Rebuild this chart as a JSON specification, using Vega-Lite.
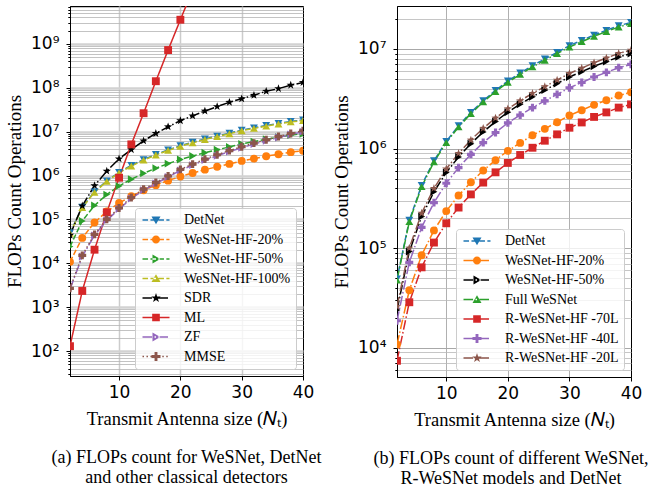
{
  "$schema": "https://vega.github.io/schema/vega-lite/v6.json",
  "background": "white",
  "padding": 5,
  "spacing": 94,
  "bounds": "flush",
  "datasets": {
    "left": [
      {"series":"DetNet","x":2,"y":49300},{"series":"DetNet","x":4,"y":191000},{"series":"DetNet","x":6,"y":428000},{"series":"DetNet","x":8,"y":757000},{"series":"DetNet","x":10,"y":1180000},{"series":"DetNet","x":12,"y":1700000},{"series":"DetNet","x":14,"y":2310000},{"series":"DetNet","x":16,"y":3030000},{"series":"DetNet","x":18,"y":3840000},{"series":"DetNet","x":20,"y":4770000},{"series":"DetNet","x":22,"y":5740000},{"series":"DetNet","x":24,"y":6810000},{"series":"DetNet","x":26,"y":7940000},{"series":"DetNet","x":28,"y":9240000},{"series":"DetNet","x":30,"y":10800000},{"series":"DetNet","x":32,"y":12200000},{"series":"DetNet","x":34,"y":13800000},{"series":"DetNet","x":36,"y":15400000},{"series":"DetNet","x":38,"y":17100000},{"series":"DetNet","x":40,"y":18500000},
      {"series":"WeSNet-HF-20%","x":2,"y":10800},{"series":"WeSNet-HF-20%","x":4,"y":37900},{"series":"WeSNet-HF-20%","x":6,"y":85100},{"series":"WeSNet-HF-20%","x":8,"y":151000},{"series":"WeSNet-HF-20%","x":10,"y":236000},{"series":"WeSNet-HF-20%","x":12,"y":338000},{"series":"WeSNet-HF-20%","x":14,"y":459000},{"series":"WeSNet-HF-20%","x":16,"y":603000},{"series":"WeSNet-HF-20%","x":18,"y":765000},{"series":"WeSNet-HF-20%","x":20,"y":949000},{"series":"WeSNet-HF-20%","x":22,"y":1140000},{"series":"WeSNet-HF-20%","x":24,"y":1360000},{"series":"WeSNet-HF-20%","x":26,"y":1580000},{"series":"WeSNet-HF-20%","x":28,"y":1840000},{"series":"WeSNet-HF-20%","x":30,"y":2150000},{"series":"WeSNet-HF-20%","x":32,"y":2430000},{"series":"WeSNet-HF-20%","x":34,"y":2750000},{"series":"WeSNet-HF-20%","x":36,"y":3060000},{"series":"WeSNet-HF-20%","x":38,"y":3410000},{"series":"WeSNet-HF-20%","x":40,"y":3680000},
      {"series":"WeSNet-HF-50%","x":2,"y":24000},{"series":"WeSNet-HF-50%","x":4,"y":92500},{"series":"WeSNet-HF-50%","x":6,"y":208000},{"series":"WeSNet-HF-50%","x":8,"y":368000},{"series":"WeSNet-HF-50%","x":10,"y":575000},{"series":"WeSNet-HF-50%","x":12,"y":825000},{"series":"WeSNet-HF-50%","x":14,"y":1120000},{"series":"WeSNet-HF-50%","x":16,"y":1470000},{"series":"WeSNet-HF-50%","x":18,"y":1870000},{"series":"WeSNet-HF-50%","x":20,"y":2320000},{"series":"WeSNet-HF-50%","x":22,"y":2790000},{"series":"WeSNet-HF-50%","x":24,"y":3310000},{"series":"WeSNet-HF-50%","x":26,"y":3860000},{"series":"WeSNet-HF-50%","x":28,"y":4490000},{"series":"WeSNet-HF-50%","x":30,"y":5240000},{"series":"WeSNet-HF-50%","x":32,"y":5920000},{"series":"WeSNet-HF-50%","x":34,"y":6700000},{"series":"WeSNet-HF-50%","x":36,"y":7470000},{"series":"WeSNet-HF-50%","x":38,"y":8320000},{"series":"WeSNet-HF-50%","x":40,"y":8980000},
      {"series":"WeSNet-HF-100%","x":2,"y":47900},{"series":"WeSNet-HF-100%","x":4,"y":185000},{"series":"WeSNet-HF-100%","x":6,"y":415000},{"series":"WeSNet-HF-100%","x":8,"y":735000},{"series":"WeSNet-HF-100%","x":10,"y":1150000},{"series":"WeSNet-HF-100%","x":12,"y":1650000},{"series":"WeSNet-HF-100%","x":14,"y":2240000},{"series":"WeSNet-HF-100%","x":16,"y":2940000},{"series":"WeSNet-HF-100%","x":18,"y":3730000},{"series":"WeSNet-HF-100%","x":20,"y":4630000},{"series":"WeSNet-HF-100%","x":22,"y":5570000},{"series":"WeSNet-HF-100%","x":24,"y":6610000},{"series":"WeSNet-HF-100%","x":26,"y":7710000},{"series":"WeSNet-HF-100%","x":28,"y":8970000},{"series":"WeSNet-HF-100%","x":30,"y":10470000},{"series":"WeSNet-HF-100%","x":32,"y":11830000},{"series":"WeSNet-HF-100%","x":34,"y":13400000},{"series":"WeSNet-HF-100%","x":36,"y":14930000},{"series":"WeSNet-HF-100%","x":38,"y":16630000},{"series":"WeSNet-HF-100%","x":40,"y":17950000},
      {"series":"SDR","x":2,"y":43700},{"series":"SDR","x":4,"y":204000},{"series":"SDR","x":6,"y":589000},{"series":"SDR","x":8,"y":1260000},{"series":"SDR","x":10,"y":2400000},{"series":"SDR","x":12,"y":3890000},{"series":"SDR","x":14,"y":6170000},{"series":"SDR","x":16,"y":9120000},{"series":"SDR","x":18,"y":12900000},{"series":"SDR","x":20,"y":17800000},{"series":"SDR","x":22,"y":22900000},{"series":"SDR","x":24,"y":29500000},{"series":"SDR","x":26,"y":37200000},{"series":"SDR","x":28,"y":46800000},{"series":"SDR","x":30,"y":56200000},{"series":"SDR","x":32,"y":67600000},{"series":"SDR","x":34,"y":83200000},{"series":"SDR","x":36,"y":95500000},{"series":"SDR","x":38,"y":114800000},{"series":"SDR","x":40,"y":131800000},
      {"series":"ML","x":2,"y":129},{"series":"ML","x":4,"y":2340},{"series":"ML","x":6,"y":20400},{"series":"ML","x":8,"y":145000},{"series":"ML","x":10,"y":891000},{"series":"ML","x":12,"y":5130000},{"series":"ML","x":14,"y":26300000},{"series":"ML","x":16,"y":141000000},{"series":"ML","x":18,"y":724000000},{"series":"ML","x":20,"y":3550000000},{"series":"ML","x":22,"y":17000000000},{"series":"ML","x":24,"y":80000000000},{"series":"ML","x":26,"y":380000000000},{"series":"ML","x":28,"y":1.8e12},{"series":"ML","x":30,"y":8.5e12},{"series":"ML","x":32,"y":4e13},{"series":"ML","x":34,"y":1.9e14},{"series":"ML","x":36,"y":8.9e14},{"series":"ML","x":38,"y":4.2e15},{"series":"ML","x":40,"y":2e16},
      {"series":"ZF","x":2,"y":2560},{"series":"ZF","x":4,"y":14300},{"series":"ZF","x":6,"y":43400},{"series":"ZF","x":8,"y":95000},{"series":"ZF","x":10,"y":173000},{"series":"ZF","x":12,"y":300000},{"series":"ZF","x":14,"y":465000},{"series":"ZF","x":16,"y":657000},{"series":"ZF","x":18,"y":928000},{"series":"ZF","x":20,"y":1310000},{"series":"ZF","x":22,"y":1730000},{"series":"ZF","x":24,"y":2240000},{"series":"ZF","x":26,"y":2830000},{"series":"ZF","x":28,"y":3520000},{"series":"ZF","x":30,"y":4300000},{"series":"ZF","x":32,"y":5200000},{"series":"ZF","x":34,"y":6200000},{"series":"ZF","x":36,"y":7340000},{"series":"ZF","x":38,"y":8600000},{"series":"ZF","x":40,"y":9990000},
      {"series":"MMSE","x":2,"y":2690},{"series":"MMSE","x":4,"y":15100},{"series":"MMSE","x":6,"y":45700},{"series":"MMSE","x":8,"y":100000},{"series":"MMSE","x":10,"y":182000},{"series":"MMSE","x":12,"y":316000},{"series":"MMSE","x":14,"y":490000},{"series":"MMSE","x":16,"y":692000},{"series":"MMSE","x":18,"y":977000},{"series":"MMSE","x":20,"y":1380000},{"series":"MMSE","x":22,"y":1820000},{"series":"MMSE","x":24,"y":2360000},{"series":"MMSE","x":26,"y":2980000},{"series":"MMSE","x":28,"y":3700000},{"series":"MMSE","x":30,"y":4530000},{"series":"MMSE","x":32,"y":5470000},{"series":"MMSE","x":34,"y":6530000},{"series":"MMSE","x":36,"y":7730000},{"series":"MMSE","x":38,"y":9060000},{"series":"MMSE","x":40,"y":10500000}
    ],
    "right": [
      {"series":"DetNet","x":2,"y":49300},{"series":"DetNet","x":4,"y":191000},{"series":"DetNet","x":6,"y":428000},{"series":"DetNet","x":8,"y":757000},{"series":"DetNet","x":10,"y":1180000},{"series":"DetNet","x":12,"y":1700000},{"series":"DetNet","x":14,"y":2310000},{"series":"DetNet","x":16,"y":3030000},{"series":"DetNet","x":18,"y":3840000},{"series":"DetNet","x":20,"y":4770000},{"series":"DetNet","x":22,"y":5740000},{"series":"DetNet","x":24,"y":6810000},{"series":"DetNet","x":26,"y":7940000},{"series":"DetNet","x":28,"y":9240000},{"series":"DetNet","x":30,"y":10800000},{"series":"DetNet","x":32,"y":12200000},{"series":"DetNet","x":34,"y":13800000},{"series":"DetNet","x":36,"y":15400000},{"series":"DetNet","x":38,"y":17100000},{"series":"DetNet","x":40,"y":18500000},
      {"series":"WeSNet-HF-20%","x":2,"y":10800},{"series":"WeSNet-HF-20%","x":4,"y":37900},{"series":"WeSNet-HF-20%","x":6,"y":85100},{"series":"WeSNet-HF-20%","x":8,"y":151000},{"series":"WeSNet-HF-20%","x":10,"y":236000},{"series":"WeSNet-HF-20%","x":12,"y":338000},{"series":"WeSNet-HF-20%","x":14,"y":459000},{"series":"WeSNet-HF-20%","x":16,"y":603000},{"series":"WeSNet-HF-20%","x":18,"y":765000},{"series":"WeSNet-HF-20%","x":20,"y":949000},{"series":"WeSNet-HF-20%","x":22,"y":1140000},{"series":"WeSNet-HF-20%","x":24,"y":1360000},{"series":"WeSNet-HF-20%","x":26,"y":1580000},{"series":"WeSNet-HF-20%","x":28,"y":1840000},{"series":"WeSNet-HF-20%","x":30,"y":2150000},{"series":"WeSNet-HF-20%","x":32,"y":2430000},{"series":"WeSNet-HF-20%","x":34,"y":2750000},{"series":"WeSNet-HF-20%","x":36,"y":3060000},{"series":"WeSNet-HF-20%","x":38,"y":3410000},{"series":"WeSNet-HF-20%","x":40,"y":3680000},
      {"series":"WeSNet-HF-50%","x":2,"y":24000},{"series":"WeSNet-HF-50%","x":4,"y":92500},{"series":"WeSNet-HF-50%","x":6,"y":208000},{"series":"WeSNet-HF-50%","x":8,"y":368000},{"series":"WeSNet-HF-50%","x":10,"y":575000},{"series":"WeSNet-HF-50%","x":12,"y":825000},{"series":"WeSNet-HF-50%","x":14,"y":1120000},{"series":"WeSNet-HF-50%","x":16,"y":1470000},{"series":"WeSNet-HF-50%","x":18,"y":1870000},{"series":"WeSNet-HF-50%","x":20,"y":2320000},{"series":"WeSNet-HF-50%","x":22,"y":2790000},{"series":"WeSNet-HF-50%","x":24,"y":3310000},{"series":"WeSNet-HF-50%","x":26,"y":3860000},{"series":"WeSNet-HF-50%","x":28,"y":4490000},{"series":"WeSNet-HF-50%","x":30,"y":5240000},{"series":"WeSNet-HF-50%","x":32,"y":5920000},{"series":"WeSNet-HF-50%","x":34,"y":6700000},{"series":"WeSNet-HF-50%","x":36,"y":7470000},{"series":"WeSNet-HF-50%","x":38,"y":8320000},{"series":"WeSNet-HF-50%","x":40,"y":8980000},
      {"series":"Full WeSNet","x":2,"y":47900},{"series":"Full WeSNet","x":4,"y":185000},{"series":"Full WeSNet","x":6,"y":415000},{"series":"Full WeSNet","x":8,"y":735000},{"series":"Full WeSNet","x":10,"y":1150000},{"series":"Full WeSNet","x":12,"y":1650000},{"series":"Full WeSNet","x":14,"y":2240000},{"series":"Full WeSNet","x":16,"y":2940000},{"series":"Full WeSNet","x":18,"y":3730000},{"series":"Full WeSNet","x":20,"y":4630000},{"series":"Full WeSNet","x":22,"y":5570000},{"series":"Full WeSNet","x":24,"y":6610000},{"series":"Full WeSNet","x":26,"y":7710000},{"series":"Full WeSNet","x":28,"y":8970000},{"series":"Full WeSNet","x":30,"y":10470000},{"series":"Full WeSNet","x":32,"y":11830000},{"series":"Full WeSNet","x":34,"y":13400000},{"series":"Full WeSNet","x":36,"y":14930000},{"series":"Full WeSNet","x":38,"y":16630000},{"series":"Full WeSNet","x":40,"y":17950000},
      {"series":"R-WeSNet-HF -70L","x":2,"y":7420},{"series":"R-WeSNet-HF -70L","x":4,"y":28700},{"series":"R-WeSNet-HF -70L","x":6,"y":64300},{"series":"R-WeSNet-HF -70L","x":8,"y":114000},{"series":"R-WeSNet-HF -70L","x":10,"y":178000},{"series":"R-WeSNet-HF -70L","x":12,"y":256000},{"series":"R-WeSNet-HF -70L","x":14,"y":347000},{"series":"R-WeSNet-HF -70L","x":16,"y":456000},{"series":"R-WeSNet-HF -70L","x":18,"y":578000},{"series":"R-WeSNet-HF -70L","x":20,"y":718000},{"series":"R-WeSNet-HF -70L","x":22,"y":863000},{"series":"R-WeSNet-HF -70L","x":24,"y":1020000},{"series":"R-WeSNet-HF -70L","x":26,"y":1200000},{"series":"R-WeSNet-HF -70L","x":28,"y":1390000},{"series":"R-WeSNet-HF -70L","x":30,"y":1620000},{"series":"R-WeSNet-HF -70L","x":32,"y":1830000},{"series":"R-WeSNet-HF -70L","x":34,"y":2080000},{"series":"R-WeSNet-HF -70L","x":36,"y":2310000},{"series":"R-WeSNet-HF -70L","x":38,"y":2580000},{"series":"R-WeSNet-HF -70L","x":40,"y":2780000},
      {"series":"R-WeSNet-HF -40L","x":2,"y":18700},{"series":"R-WeSNet-HF -40L","x":4,"y":72200},{"series":"R-WeSNet-HF -40L","x":6,"y":162000},{"series":"R-WeSNet-HF -40L","x":8,"y":287000},{"series":"R-WeSNet-HF -40L","x":10,"y":449000},{"series":"R-WeSNet-HF -40L","x":12,"y":644000},{"series":"R-WeSNet-HF -40L","x":14,"y":874000},{"series":"R-WeSNet-HF -40L","x":16,"y":1150000},{"series":"R-WeSNet-HF -40L","x":18,"y":1450000},{"series":"R-WeSNet-HF -40L","x":20,"y":1810000},{"series":"R-WeSNet-HF -40L","x":22,"y":2170000},{"series":"R-WeSNet-HF -40L","x":24,"y":2580000},{"series":"R-WeSNet-HF -40L","x":26,"y":3010000},{"series":"R-WeSNet-HF -40L","x":28,"y":3500000},{"series":"R-WeSNet-HF -40L","x":30,"y":4080000},{"series":"R-WeSNet-HF -40L","x":32,"y":4610000},{"series":"R-WeSNet-HF -40L","x":34,"y":5230000},{"series":"R-WeSNet-HF -40L","x":36,"y":5820000},{"series":"R-WeSNet-HF -40L","x":38,"y":6490000},{"series":"R-WeSNet-HF -40L","x":40,"y":7000000},
      {"series":"R-WeSNet-HF -20L","x":2,"y":26000},{"series":"R-WeSNet-HF -20L","x":4,"y":100500},{"series":"R-WeSNet-HF -20L","x":6,"y":225000},{"series":"R-WeSNet-HF -20L","x":8,"y":399000},{"series":"R-WeSNet-HF -20L","x":10,"y":625000},{"series":"R-WeSNet-HF -20L","x":12,"y":896000},{"series":"R-WeSNet-HF -20L","x":14,"y":1220000},{"series":"R-WeSNet-HF -20L","x":16,"y":1600000},{"series":"R-WeSNet-HF -20L","x":18,"y":2030000},{"series":"R-WeSNet-HF -20L","x":20,"y":2510000},{"series":"R-WeSNet-HF -20L","x":22,"y":3020000},{"series":"R-WeSNet-HF -20L","x":24,"y":3590000},{"series":"R-WeSNet-HF -20L","x":26,"y":4190000},{"series":"R-WeSNet-HF -20L","x":28,"y":4870000},{"series":"R-WeSNet-HF -20L","x":30,"y":5690000},{"series":"R-WeSNet-HF -20L","x":32,"y":6420000},{"series":"R-WeSNet-HF -20L","x":34,"y":7280000},{"series":"R-WeSNet-HF -20L","x":36,"y":8110000},{"series":"R-WeSNet-HF -20L","x":38,"y":9030000},{"series":"R-WeSNet-HF -20L","x":40,"y":9750000}
    ]
  },
  "hconcat": [
    {
      "width": 233,
      "height": 370,
      "data": {"name": "left"},
      "title": {"text": ["(a) FLOPs count for WeSNet, DetNet", "and other classical detectors"], "orient": "bottom", "anchor": "middle", "frame": "group", "offset": 21, "dx": 0, "lineHeight": 20},
      "encoding": {
        "x": {"field": "x", "type": "quantitative", "scale": {"domain": [2, 40], "nice": false, "zero": false},
          "axis": {"title": "Transmit Antenna size (𝑁ₜ)", "values": [10, 20, 30, 40], "grid": true, "gridColor": "#cccccc", "gridWidth": 1.5, "gridOpacity": {"condition": {"test": "datum.value >= 40", "value": 0}, "value": 1}, "labelFlush": false, "tickSize": 4, "labelPadding": 4, "titlePadding": 9}},
        "y": {"field": "y", "type": "quantitative", "scale": {"type": "log", "domain": [27, 7300000000], "nice": false},
          "axis": {"title": "FLOPs Count Operations", "titleFontSize": 19,
            "values": [30,40,50,60,70,80,90,100,200,300,400,500,600,700,800,900,1000,2000,3000,4000,5000,6000,7000,8000,9000,10000,20000,30000,40000,50000,60000,70000,80000,90000,100000,200000,300000,400000,500000,600000,700000,800000,900000,1000000,2000000,3000000,4000000,5000000,6000000,7000000,8000000,9000000,10000000,20000000,30000000,40000000,50000000,60000000,70000000,80000000,90000000,100000000,200000000,300000000,400000000,500000000,600000000,700000000,800000000,900000000,1000000000,2000000000,3000000000,4000000000,5000000000,6000000000,7000000000],
            "labelExpr": "abs(log(datum.value)/LN10 - round(log(datum.value)/LN10)) < 0.000001 ? '10' + ['⁰','¹','²','³','⁴','⁵','⁶','⁷','⁸','⁹'][round(log(datum.value)/LN10)] : ''",
            "labelFontSize": {"condition": {"test": "abs(log(datum.value)/LN10 - round(log(datum.value)/LN10)) < 0.000001", "value": 17}, "value": 0},
            "labelOverlap": false,
            "grid": true,
            "gridColor": {"condition": {"test": "abs(log(datum.value)/LN10 - round(log(datum.value)/LN10)) < 0.000001", "value": "#d2d2d2"}, "value": "#b4b4b4"},
            "gridWidth": {"condition": {"test": "abs(log(datum.value)/LN10 - round(log(datum.value)/LN10)) < 0.000001", "value": 2.5}, "value": 0.8},
            "tickSize": {"condition": {"test": "abs(log(datum.value)/LN10 - round(log(datum.value)/LN10)) < 0.000001", "value": 4}, "value": 2.2},
            "labelPadding": 7, "titlePadding": 6}}
      },
      "layer": [
        {"mark": {"type": "line", "strokeWidth": 1.5, "clip": true},
         "encoding": {
           "color": {"field": "series", "type": "nominal", "legend": null, "scale": {"domain": ["DetNet","WeSNet-HF-20%","WeSNet-HF-50%","WeSNet-HF-100%","SDR","ML","ZF","MMSE"], "range": ["#1f77b4","#ff7f0e","#2ca02c","#bcbd22","#000000","#d62728","#9467bd","#8c564b"]}},
           "strokeDash": {"field": "series", "type": "nominal", "legend": null, "scale": {"domain": ["DetNet","WeSNet-HF-20%","WeSNet-HF-50%","WeSNet-HF-100%","SDR","ML","ZF","MMSE"], "range": [[5.5,2.4],[5.5,2.4],[5.5,2.4],[5.5,2.4],[9.6,2.4,1.5,2.4],[1,0],[9.6,2.4,1.5,2.4],[1.5,2.5]]}}
         }},
        {"mark": {"type": "point", "filled": true, "size": 62, "opacity": 1, "clip": true},
         "encoding": {
           "color": {"field": "series", "type": "nominal", "legend": null, "scale": {"domain": ["DetNet","WeSNet-HF-20%","WeSNet-HF-50%","WeSNet-HF-100%","SDR","ML","ZF","MMSE"], "range": ["#1f77b4","#ff7f0e","#2ca02c","#bcbd22","#000000","#d62728","#9467bd","#8c564b"]}},
           "shape": {"field": "series", "type": "nominal", "legend": null, "scale": {"domain": ["DetNet","WeSNet-HF-20%","WeSNet-HF-50%","WeSNet-HF-100%","SDR","ML","ZF","MMSE"], "range": ["triangle-down","circle","triangle-right","triangle-up","M0,-1.1L0.26,-0.36L1.05,-0.34L0.42,0.14L0.65,0.89L0,0.44L-0.65,0.89L-0.42,0.14L-1.05,-0.34L-0.26,-0.36Z","square","triangle-right","cross"]}}
         }},
        {"transform": [{"filter": "datum.x < 0"}],
         "mark": {"type": "point", "filled": true, "opacity": 1},
         "encoding": {
           "color": {"field": "series", "type": "nominal", "scale": {"domain": ["DetNet","WeSNet-HF-20%","WeSNet-HF-50%","WeSNet-HF-100%","SDR","ML","ZF","MMSE"], "range": ["#1f77b4","#ff7f0e","#2ca02c","#bcbd22","#000000","#d62728","#9467bd","#8c564b"]}, "legend": {"title": null}},
           "shape": {"field": "series", "type": "nominal", "legend": {"title": null}, "scale": {"domain": ["DetNet","WeSNet-HF-20%","WeSNet-HF-50%","WeSNet-HF-100%","SDR","ML","ZF","MMSE"], "range": [
             "M-3,-0.17H-1.77V0.17H-3ZM-1.23,-0.17H0V0.17H-1.23ZM0.53,-0.17H1.77V0.17H0.53ZM2.3,-0.17H3V0.17H2.3ZM-1,-0.78L1,-0.78L0,0.95Z",
             "M-3,-0.17H-1.77V0.17H-3ZM-1.23,-0.17H0V0.17H-1.23ZM0.53,-0.17H1.77V0.17H0.53ZM2.3,-0.17H3V0.17H2.3ZM0.9,0A0.9,0.9,0,1,1,-0.9,0A0.9,0.9,0,1,1,0.9,0Z",
             "M-3,-0.17H-1.77V0.17H-3ZM-1.23,-0.17H0V0.17H-1.23ZM0.53,-0.17H1.77V0.17H0.53ZM2.3,-0.17H3V0.17H2.3ZM-0.78,-1L-0.78,1L0.95,0Z",
             "M-3,-0.17H-1.77V0.17H-3ZM-1.23,-0.17H0V0.17H-1.23ZM0.53,-0.17H1.77V0.17H0.53ZM2.3,-0.17H3V0.17H2.3ZM-1,0.78L1,0.78L0,-0.95Z",
             "M-3,-0.17H-0.87V0.17H-3ZM-0.33,-0.17H0V0.17H-0.33ZM0.53,-0.17H2.67V0.17H0.53ZM0,-1.1L0.26,-0.36L1.05,-0.34L0.42,0.14L0.65,0.89L0,0.44L-0.65,0.89L-0.42,0.14L-1.05,-0.34L-0.26,-0.36Z",
             "M-3,-0.17H3V0.17H-3ZM-0.85,-0.85H0.85V0.85H-0.85Z",
             "M-3,-0.17H-0.87V0.17H-3ZM-0.33,-0.17H0V0.17H-0.33ZM0.53,-0.17H2.67V0.17H0.53ZM-0.78,-1L-0.78,1L0.95,0Z",
             "M-3,-0.17H-2.67V0.17H-3ZM-2.12,-0.17H-1.79V0.17H-2.12ZM-1.24,-0.17H-0.91V0.17H-1.24ZM-0.36,-0.17H-0.03V0.17H-0.36ZM0.52,-0.17H0.85V0.17H0.52ZM1.4,-0.17H1.73V0.17H1.4ZM2.28,-0.17H2.61V0.17H2.28ZM-0.32,-1H0.32V-0.32H1V0.32H0.32V1H-0.32V0.32H-1V-0.32H-0.32Z"
           ]}}
         }}
      ],
      "resolve": {"scale": {"color": "independent", "shape": "independent", "strokeDash": "independent"}, "legend": {"color": "independent", "shape": "independent", "strokeDash": "independent"}}
    },
    {
      "width": 234,
      "height": 371,
      "data": {"name": "right"},
      "title": {"text": ["(b) FLOPs count of different WeSNet,", "R-WeSNet models and DetNet"], "orient": "bottom", "anchor": "middle", "frame": "group", "offset": 21, "dx": -3, "lineHeight": 20},
      "encoding": {
        "x": {"field": "x", "type": "quantitative", "scale": {"domain": [2, 40], "nice": false, "zero": false},
          "axis": {"title": "Transmit Antenna size (𝑁ₜ)", "values": [10, 20, 30, 40], "grid": true, "gridColor": "#b0b0b0", "gridWidth": 1, "gridOpacity": {"condition": {"test": "datum.value >= 40", "value": 0}, "value": 1}, "labelFlush": false, "tickSize": 4, "labelPadding": 4, "titlePadding": 9}},
        "y": {"field": "y", "type": "quantitative", "scale": {"type": "log", "domain": [5100, 27000000], "nice": false},
          "axis": {"title": "FLOPs Count Operations", "titleFontSize": 19,
            "values": [6000,7000,8000,9000,10000,20000,30000,40000,50000,60000,70000,80000,90000,100000,200000,300000,400000,500000,600000,700000,800000,900000,1000000,2000000,3000000,4000000,5000000,6000000,7000000,8000000,9000000,10000000,20000000],
            "labelExpr": "abs(log(datum.value)/LN10 - round(log(datum.value)/LN10)) < 0.000001 ? '10' + ['⁰','¹','²','³','⁴','⁵','⁶','⁷','⁸','⁹'][round(log(datum.value)/LN10)] : ''",
            "labelFontSize": {"condition": {"test": "abs(log(datum.value)/LN10 - round(log(datum.value)/LN10)) < 0.000001", "value": 17}, "value": 0},
            "labelOverlap": false,
            "grid": true,
            "gridColor": {"condition": {"test": "abs(log(datum.value)/LN10 - round(log(datum.value)/LN10)) < 0.000001", "value": "#a8a8a8"}, "value": "#b8b8b8"},
            "gridWidth": {"condition": {"test": "abs(log(datum.value)/LN10 - round(log(datum.value)/LN10)) < 0.000001", "value": 1.2}, "value": 0.8},
            "tickSize": {"condition": {"test": "abs(log(datum.value)/LN10 - round(log(datum.value)/LN10)) < 0.000001", "value": 4}, "value": 2.2},
            "labelPadding": 7, "titlePadding": 6}}
      },
      "layer": [
        {"mark": {"type": "line", "strokeWidth": 1.5, "clip": true},
         "encoding": {
           "color": {"field": "series", "type": "nominal", "legend": null, "scale": {"domain": ["DetNet","WeSNet-HF-20%","WeSNet-HF-50%","Full WeSNet","R-WeSNet-HF -70L","R-WeSNet-HF -40L","R-WeSNet-HF -20L"], "range": ["#1f77b4","#ff7f0e","#000000","#2ca02c","#d62728","#9467bd","#8c564b"]}},
           "strokeDash": {"field": "series", "type": "nominal", "legend": null, "scale": {"domain": ["DetNet","WeSNet-HF-20%","WeSNet-HF-50%","Full WeSNet","R-WeSNet-HF -70L","R-WeSNet-HF -40L","R-WeSNet-HF -20L"], "range": [[5.5,2.4],[9.6,2.4,1.5,2.4],[9.6,2.4,1.5,2.4],[9.6,2.4,1.5,2.4],[9.6,2.4,1.5,2.4],[9.6,2.4,1.5,2.4],[9.6,2.4,1.5,2.4]]}}
         }},
        {"mark": {"type": "point", "filled": true, "size": 62, "opacity": 1, "clip": true},
         "encoding": {
           "color": {"field": "series", "type": "nominal", "legend": null, "scale": {"domain": ["DetNet","WeSNet-HF-20%","WeSNet-HF-50%","Full WeSNet","R-WeSNet-HF -70L","R-WeSNet-HF -40L","R-WeSNet-HF -20L"], "range": ["#1f77b4","#ff7f0e","#000000","#2ca02c","#d62728","#9467bd","#8c564b"]}},
           "shape": {"field": "series", "type": "nominal", "legend": null, "scale": {"domain": ["DetNet","WeSNet-HF-20%","WeSNet-HF-50%","Full WeSNet","R-WeSNet-HF -70L","R-WeSNet-HF -40L","R-WeSNet-HF -20L"], "range": ["triangle-down","circle","triangle-right","triangle-up","square","cross","M0,-1.1L0.26,-0.36L1.05,-0.34L0.42,0.14L0.65,0.89L0,0.44L-0.65,0.89L-0.42,0.14L-1.05,-0.34L-0.26,-0.36Z"]}}
         }},
        {"transform": [{"filter": "datum.x < 0"}],
         "mark": {"type": "point", "filled": true, "opacity": 1},
         "encoding": {
           "color": {"field": "series", "type": "nominal", "scale": {"domain": ["DetNet","WeSNet-HF-20%","WeSNet-HF-50%","Full WeSNet","R-WeSNet-HF -70L","R-WeSNet-HF -40L","R-WeSNet-HF -20L"], "range": ["#1f77b4","#ff7f0e","#000000","#2ca02c","#d62728","#9467bd","#8c564b"]}, "legend": {"title": null}},
           "shape": {"field": "series", "type": "nominal", "legend": {"title": null}, "scale": {"domain": ["DetNet","WeSNet-HF-20%","WeSNet-HF-50%","Full WeSNet","R-WeSNet-HF -70L","R-WeSNet-HF -40L","R-WeSNet-HF -20L"], "range": [
             "M-3,-0.17H-1.77V0.17H-3ZM-1.23,-0.17H0V0.17H-1.23ZM0.53,-0.17H1.77V0.17H0.53ZM2.3,-0.17H3V0.17H2.3ZM-1,-0.78L1,-0.78L0,0.95Z",
             "M-3,-0.17H-0.87V0.17H-3ZM-0.33,-0.17H0V0.17H-0.33ZM0.53,-0.17H2.67V0.17H0.53ZM0.9,0A0.9,0.9,0,1,1,-0.9,0A0.9,0.9,0,1,1,0.9,0Z",
             "M-3,-0.17H-0.87V0.17H-3ZM-0.33,-0.17H0V0.17H-0.33ZM0.53,-0.17H2.67V0.17H0.53ZM-0.78,-1L-0.78,1L0.95,0Z",
             "M-3,-0.17H-0.87V0.17H-3ZM-0.33,-0.17H0V0.17H-0.33ZM0.53,-0.17H2.67V0.17H0.53ZM-1,0.78L1,0.78L0,-0.95Z",
             "M-3,-0.17H-0.87V0.17H-3ZM-0.33,-0.17H0V0.17H-0.33ZM0.53,-0.17H2.67V0.17H0.53ZM-0.85,-0.85H0.85V0.85H-0.85Z",
             "M-3,-0.17H-0.87V0.17H-3ZM-0.33,-0.17H0V0.17H-0.33ZM0.53,-0.17H2.67V0.17H0.53ZM-0.32,-1H0.32V-0.32H1V0.32H0.32V1H-0.32V0.32H-1V-0.32H-0.32Z",
             "M-3,-0.17H-0.87V0.17H-3ZM-0.33,-0.17H0V0.17H-0.33ZM0.53,-0.17H2.67V0.17H0.53ZM0,-1.1L0.26,-0.36L1.05,-0.34L0.42,0.14L0.65,0.89L0,0.44L-0.65,0.89L-0.42,0.14L-1.05,-0.34L-0.26,-0.36Z"
           ]}}
         }}
      ],
      "resolve": {"scale": {"color": "independent", "shape": "independent", "strokeDash": "independent"}, "legend": {"color": "independent", "shape": "independent", "strokeDash": "independent"}}
    }
  ],
  "config": {
    "view": {"stroke": "black", "strokeWidth": 1},
    "axis": {"domainColor": "black", "domainWidth": 1, "tickColor": "black", "tickWidth": 1, "labelColor": "black", "titleColor": "black", "labelFont": "DejaVu Sans", "labelFontSize": 17, "titleFont": "Liberation Serif", "titleFontSize": 18.5, "titleFontWeight": "normal"},
    "legend": {"orient": "bottom-right", "offset": 7, "padding": 5, "fillColor": "rgba(255,255,255,0.8)", "strokeColor": "#cccccc", "cornerRadius": 3, "labelFont": "Liberation Serif", "labelFontSize": 14, "labelColor": "black", "symbolSize": 81, "symbolOffset": 9, "labelOffset": 21, "rowPadding": 5.5, "symbolStrokeWidth": 0, "labelLimit": 250},
    "title": {"font": "Liberation Serif", "fontSize": 18, "fontWeight": "normal", "color": "black"}
  }
}
